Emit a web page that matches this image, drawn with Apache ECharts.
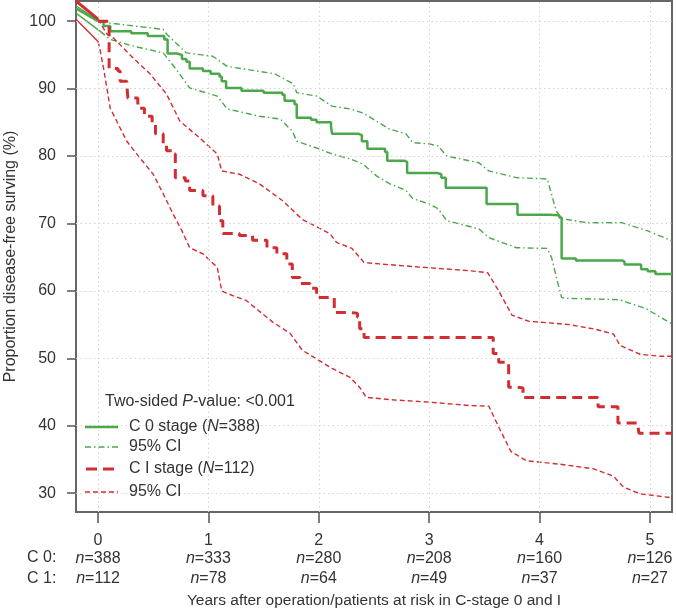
<!DOCTYPE html>
<html>
<head>
<meta charset="utf-8">
<script src="https://cdn.jsdelivr.net/npm/echarts@6/dist/echarts.min.js"></script>
<style>html,body{margin:0;padding:0;background:#fff}#c{width:676px;height:615px}</style>
</head>
<body>
<div id="c"></div>
<script>
// ---- data (years, % disease-free) ----
const xTicks = [0, 1, 2, 3, 4, 5];
const yTicks = [30, 40, 50, 60, 70, 80, 90, 100];
const atRiskC0 = [388, 333, 280, 208, 160, 126];
const atRiskC1 = [112, 78, 64, 49, 37, 27];

// Kaplan-Meier steps [time, survival after drop]
const c0Main = [[0,100],[0.05,99.3],[0.11,98.5],[0.3,98.2],[0.45,97.8],[0.6,97.3],[0.63,95.2],[0.72,95.0],[0.76,94.4],[0.8,94.0],[0.83,93.0],[0.95,92.6],[1.02,92.2],[1.1,91.8],[1.12,91.1],[1.16,90.1],[1.3,89.7],[1.5,89.4],[1.67,89.1],[1.69,88.2],[1.78,87.7],[1.8,85.7],[1.93,85.4],[1.98,85.0],[2.11,84.5],[2.12,83.3],[2.36,83.1],[2.39,82.2],[2.44,81.1],[2.6,80.6],[2.62,79.3],[2.78,79.1],[2.8,77.5],[3.07,77.3],[3.11,76.8],[3.15,75.3],[3.52,72.9],[3.8,71.3],[4.09,71.2],[4.18,70.9],[4.2,64.8],[4.33,64.5],[4.75,64.3],[4.77,63.9],[4.92,63.2],[4.98,62.9],[5.05,62.5],[5.2,62.5]];
const c0Upper = [[0.02,99.9],[0.32,99.3],[0.59,98.8],[0.62,98.1],[0.8,95.3],[1.04,94.8],[1.17,93.3],[1.6,92.2],[1.77,90.7],[1.8,89.4],[1.98,88.9],[2.12,87.4],[2.28,87.0],[2.4,86.4],[2.52,85.2],[2.64,84.0],[2.79,83.3],[2.85,82.0],[3.0,81.8],[3.08,81.5],[3.16,80.0],[3.45,79.0],[3.54,77.8],[3.79,76.8],[4.07,76.6],[4.15,71.9],[4.2,70.7],[4.44,70.1],[4.75,70.1],[4.98,68.9],[5.2,67.4]];
const c0Lower = [[0.02,98.5],[0.11,97.3],[0.32,96.3],[0.59,95.3],[0.72,92.6],[0.83,90.1],[1.08,88.9],[1.17,87.0],[1.46,85.9],[1.65,85.5],[1.76,83.7],[1.8,82.2],[1.98,81.2],[2.12,80.3],[2.28,79.6],[2.4,78.8],[2.52,77.1],[2.64,75.9],[2.79,74.9],[2.85,73.7],[3.0,72.9],[3.08,72.2],[3.16,70.4],[3.45,69.2],[3.54,67.9],[3.79,66.4],[4.07,66.3],[4.11,64.9],[4.16,61.5],[4.2,59.0],[4.24,58.9],[4.72,58.7],[4.96,57.4],[5.2,55.1]];

const c1Main = [[0,100],[0.1,93.0],[0.18,92.6],[0.2,91.1],[0.26,90.7],[0.27,88.6],[0.36,87.1],[0.42,85.9],[0.49,84.9],[0.52,83.3],[0.59,81.8],[0.62,80.8],[0.67,80.3],[0.7,76.8],[0.79,76.3],[0.83,74.9],[0.95,74.1],[1.04,72.6],[1.1,70.4],[1.13,68.5],[1.28,68.2],[1.4,67.5],[1.53,66.4],[1.62,65.5],[1.71,64.0],[1.76,62.0],[1.83,61.1],[1.92,60.4],[1.98,59.0],[2.14,56.8],[2.28,56.7],[2.35,56.1],[2.37,54.4],[2.41,53.1],[3.58,50.7],[3.63,49.4],[3.72,45.7],[3.8,45.6],[3.85,44.2],[4.53,42.8],[4.71,40.4],[4.89,40.1],[4.9,38.9],[5.2,38.9]];
const c1Upper = [[0,100.3],[0.08,98.1],[0.14,97.5],[0.32,94.5],[0.47,92.2],[0.62,89.2],[0.74,85.2],[0.92,82.7],[1.08,80.3],[1.12,77.8],[1.28,77.3],[1.46,75.9],[1.67,73.4],[1.85,70.6],[2.1,68.5],[2.16,67.2],[2.3,66.3],[2.41,64.2],[2.55,64.0],[2.94,63.5],[3.36,63.0],[3.53,62.7],[3.63,60.0],[3.75,56.4],[3.9,55.5],[4.27,55.0],[4.51,54.3],[4.67,53.6],[4.73,51.9],[4.91,50.6],[5.09,50.3],[5.2,50.3]];
const c1Lower = [[0,97.0],[0.02,95.6],[0.05,93.0],[0.11,87.1],[0.26,82.2],[0.38,79.7],[0.5,77.3],[0.59,74.4],[0.68,71.4],[0.76,68.9],[0.83,66.4],[0.95,65.5],[1.08,63.5],[1.12,60.0],[1.22,59.3],[1.34,58.6],[1.58,55.4],[1.74,53.7],[1.85,51.2],[2.0,49.7],[2.12,48.5],[2.28,47.2],[2.37,45.7],[2.43,44.2],[2.7,43.8],[3.0,43.5],[3.36,43.0],[3.54,42.9],[3.63,39.8],[3.74,36.2],[3.88,34.8],[4.18,34.3],[4.49,33.6],[4.67,32.5],[4.76,30.9],[4.91,29.9],[5.2,29.3]];

// solid lead-in segments drawn from the left edge of the plot
const leadC0Main = [[-0.2,101.9],[0,100]];
const leadC0Upper = [[-0.2,102.3],[0.02,99.9]];
const leadC0Lower = [[-0.2,101.2],[0.02,98.5]];
const leadC1Main = [[-0.2,103],[0,100.3]];
const leadC1Lower = [[-0.2,100.3],[0,97.0]];

const GREEN = '#4aa84a';
const RED = '#d22d32';
const TXT = '#333';
const FONT = '"Liberation Sans", Arial, Helvetica, sans-serif';

const chart = echarts.init(document.getElementById('c'), null, {renderer: 'canvas'});

function line(data, color, width, type, z, step) {
  return {type: 'line', data: data, showSymbol: false, symbol: 'none', step: step || false,
    lineStyle: {color: color, width: width, type: type, cap: 'butt'}, z: z, silent: true, animation: false};
}

const gridLineStyle = {color: '#d4d4d4', width: 1, type: [1.5, 3]};
const richTxt = {a: {fill: TXT, fontSize: 16, fontFamily: FONT}, b: {fill: TXT, fontSize: 16, fontFamily: FONT, fontStyle: 'italic'}};

const option = {
  animation: false,
  grid: {left: 76, right: 4, top: 1, bottom: 103, containLabel: false, outerBoundsMode: 'none',
    show: true, borderColor: '#666', borderWidth: 2, backgroundColor: 'transparent'},
  xAxis: [{
    type: 'value', min: -0.2, max: 5.2,
    axisLine: {show: false, onZero: false},
    splitLine: {show: false},
    axisTick: {show: true, customValues: xTicks, length: 11, inside: false, lineStyle: {color: '#555', width: 1.5}},
    axisLabel: {customValues: xTicks, margin: 21, color: TXT, fontFamily: FONT, fontSize: 16},
    name: 'Years after operation/patients at risk in C-stage 0 and I',
    nameLocation: 'middle', nameGap: 81,
    nameTextStyle: {color: TXT, fontFamily: FONT, fontSize: 15.5}
  }, {
    // patients-at-risk table, placed under the tick labels
    type: 'value', min: -0.2, max: 5.2, position: 'bottom', offset: 0,
    axisLine: {show: false, onZero: false},
    splitLine: {show: false},
    axisTick: {show: false},
    axisLabel: {
      customValues: xTicks, margin: 36,
      formatter: function (v) {
        const i = xTicks.indexOf(v);
        return '{i|n}{v|=' + atRiskC0[i] + '}\n{i|n}{v|=' + atRiskC1[i] + '}';
      },
      rich: {
        i: {fontSize: 16, lineHeight: 20.5, color: TXT, fontStyle: 'italic', fontFamily: FONT},
        v: {fontSize: 16, lineHeight: 20.5, color: TXT, fontFamily: FONT}
      }
    }
  }],
  yAxis: {
    type: 'value', min: 27.2, max: 103,
    axisLine: {show: false, onZero: false},
    splitLine: {show: false},
    axisTick: {show: true, customValues: yTicks, length: 9, inside: false, lineStyle: {color: '#555', width: 1.5}},
    axisLabel: {customValues: yTicks, margin: 20, color: TXT, fontFamily: FONT, fontSize: 16},
    name: 'Proportion disease-free surving (%)',
    nameLocation: 'middle', nameGap: 52,
    nameTextStyle: {color: TXT, fontFamily: FONT, fontSize: 16}
  },
  series: [
    {type: 'line', data: [], silent: true, z: 1,
      markLine: {silent: true, symbol: 'none', label: {show: false}, lineStyle: gridLineStyle, animation: false,
        data: xTicks.map(v => ({xAxis: v})).concat(yTicks.map(v => ({yAxis: v})))}},
    line(c0Upper, GREEN, 1.4, [6, 3, 1.5, 3], 3),
    line(c0Lower, GREEN, 1.4, [6, 3, 1.5, 3], 3),
    line(c1Upper, RED, 1.4, [5, 3], 3),
    line(c1Lower, RED, 1.4, [5, 3], 3),
    line(c0Main, GREEN, 2.5, 'solid', 5, 'end'),
    line(c1Main, RED, 3, [10, 6], 6, 'end'),
    line(leadC0Upper, GREEN, 1.4, 'solid', 4),
    line(leadC0Lower, GREEN, 1.4, 'solid', 4),
    line(leadC0Main, GREEN, 2.5, 'solid', 5),
    line(leadC1Lower, RED, 1.4, 'solid', 4),
    line(leadC1Main, RED, 3, 'solid', 6)
  ],
  graphic: [
    {type: 'text', x: 27, y: 558, style: {text: 'C 0:', fill: TXT, font: '16px ' + FONT, verticalAlign: 'middle'}, silent: true},
    {type: 'text', x: 27, y: 578.5, style: {text: 'C 1:', fill: TXT, font: '16px ' + FONT, verticalAlign: 'middle'}, silent: true},
    {type: 'text', x: 105, y: 402, style: {text: '{a|Two-sided }{b|P}{a|-value: <0.001}', verticalAlign: 'middle', rich: richTxt}, z: 20, silent: true},
    {type: 'line', shape: {x1: 85, y1: 427, x2: 118, y2: 427}, style: {stroke: GREEN, lineWidth: 2.5}, z: 20, silent: true},
    {type: 'line', shape: {x1: 85, y1: 447, x2: 118, y2: 447}, style: {stroke: GREEN, lineWidth: 1.4, lineDash: [6, 3, 1.5, 3]}, z: 20, silent: true},
    {type: 'line', shape: {x1: 86, y1: 469, x2: 118, y2: 469}, style: {stroke: RED, lineWidth: 3, lineDash: [11, 6]}, z: 20, silent: true},
    {type: 'line', shape: {x1: 85, y1: 492, x2: 118, y2: 492}, style: {stroke: RED, lineWidth: 1.4, lineDash: [5, 3]}, z: 20, silent: true},
    {type: 'text', x: 129, y: 427, style: {text: '{a|C 0 stage (}{b|N}{a|=388)}', verticalAlign: 'middle', rich: richTxt}, z: 20, silent: true},
    {type: 'text', x: 129, y: 447, style: {text: '95% CI', fill: TXT, font: '16px ' + FONT, verticalAlign: 'middle'}, z: 20, silent: true},
    {type: 'text', x: 129, y: 469, style: {text: '{a|C I stage (}{b|N}{a|=112)}', verticalAlign: 'middle', rich: richTxt}, z: 20, silent: true},
    {type: 'text', x: 129, y: 492, style: {text: '95% CI', fill: TXT, font: '16px ' + FONT, verticalAlign: 'middle'}, z: 20, silent: true}
  ]
};
chart.setOption(option);
</script>
</body>
</html>
